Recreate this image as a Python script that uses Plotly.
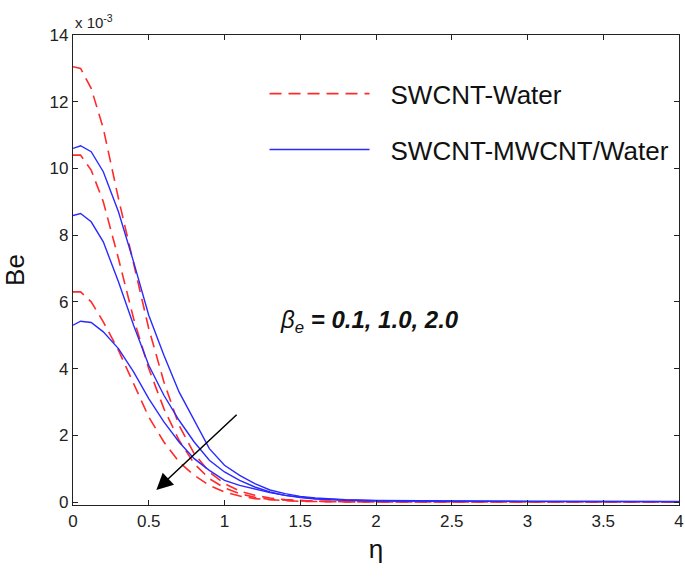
import plotly.graph_objects as go

eta = [0, 0.05, 0.12, 0.2, 0.3, 0.4, 0.5, 0.6, 0.7, 0.8, 0.9, 1.0, 1.1, 1.2,
       1.3, 1.4, 1.5, 1.6, 1.8, 2.0, 2.5, 3.0, 3.5, 4.0]

# Be values in units of 1e-3
swcnt_water_b01 = [13.05, 13.0, 12.4, 11.2, 9.1, 7.1, 5.2, 3.6, 2.3, 1.45, 0.9, 0.55, 0.33, 0.2,
                   0.12, 0.07, 0.04, 0.025, 0.01, 0.005, 0, 0, 0, 0]
swcnt_water_b10 = [10.4, 10.4, 9.95, 9.0, 7.3, 5.5, 4.0, 2.8, 1.85, 1.15, 0.7, 0.42, 0.25, 0.14,
                   0.08, 0.05, 0.03, 0.02, 0.01, 0.005, 0, 0, 0, 0]
swcnt_water_b20 = [6.3, 6.3, 6.0, 5.4, 4.55, 3.55, 2.55, 1.8, 1.2, 0.8, 0.5, 0.3, 0.18, 0.1,
                   0.06, 0.04, 0.02, 0.01, 0.005, 0, 0, 0, 0, 0]

hybrid_b01 = [10.6, 10.68, 10.5, 9.9, 8.7, 7.2, 5.6, 4.4, 3.3, 2.45, 1.6, 1.1, 0.8, 0.55,
              0.36, 0.25, 0.17, 0.12, 0.07, 0.05, 0.03, 0.02, 0.02, 0.02]
hybrid_b10 = [8.59, 8.65, 8.4, 7.8, 6.6, 5.3, 4.1, 3.2, 2.45, 1.8, 1.25, 0.9, 0.65, 0.45,
              0.3, 0.2, 0.13, 0.09, 0.05, 0.03, 0.02, 0.01, 0.01, 0.01]
hybrid_b20 = [5.3, 5.42, 5.38, 5.1, 4.6, 3.9, 3.1, 2.4, 1.8, 1.3, 0.95, 0.65, 0.5, 0.38,
              0.28, 0.2, 0.14, 0.1, 0.06, 0.04, 0.02, 0.01, 0.01, 0.01]

series_names = ["SWCNT-Water", "SWCNT-MWCNT/Water"]
x_ticks = [0, 0.5, 1, 1.5, 2, 2.5, 3, 3.5, 4]
x_ticklabels = ["0", "0.5", "1", "1.5", "2", "2.5", "3", "3.5", "4"]
y_ticks = [0, 2, 4, 6, 8, 10, 12, 14]
y_ticklabels = ["0", "2", "4", "6", "8", "10", "12", "14"]

RED = "#ff2a2a"
BLUE = "#2a2aff"

fig = go.Figure()
for i, ys in enumerate([swcnt_water_b01, swcnt_water_b10, swcnt_water_b20]):
    fig.add_trace(go.Scatter(
        x=eta, y=ys, mode="lines", name=series_names[0], legendgroup="a",
        showlegend=(i == 0),
        line=dict(color=RED, width=1.6, dash="12px,7px")))
for i, ys in enumerate([hybrid_b01, hybrid_b10, hybrid_b20]):
    fig.add_trace(go.Scatter(
        x=eta, y=ys, mode="lines", name=series_names[1], legendgroup="b",
        showlegend=(i == 0),
        line=dict(color=BLUE, width=1.4)))

axis_common = dict(showline=True, linecolor="#222", linewidth=1.2, mirror="ticks",
                   ticks="inside", ticklen=5, tickcolor="#222", showgrid=False,
                   zeroline=False, automargin=False, ticklabeloverflow="allow",
                   tickfont=dict(family="Liberation Sans, Arial", size=17, color="#222"))

fig.update_xaxes(range=[0, 4], tickvals=x_ticks, ticktext=x_ticklabels,
                 title=dict(text="η", font=dict(family="Liberation Sans, Arial", size=26, color="#111"),
                            standoff=10),
                 **axis_common)
fig.update_yaxes(range=[-0.09, 14], tickvals=y_ticks, ticktext=y_ticklabels,
                 title=dict(text="Be", font=dict(family="Liberation Sans, Arial", size=26, color="#111"),
                            standoff=20),
                 **axis_common)

fig.add_annotation(xref="paper", yref="paper", x=0, y=1.0, xanchor="left", yanchor="bottom",
                   text="x 10<sup>-3</sup>", showarrow=False, yshift=2,
                   font=dict(family="Liberation Sans, Arial", size=15, color="#222"))

fig.add_annotation(xref="x", yref="y", x=1.35, y=5.4, xanchor="left", yanchor="middle",
                   text="<i>β</i><sub><i>e</i></sub><b><i> = 0.1, 1.0, 2.0</i></b>",
                   showarrow=False,
                   font=dict(family="Liberation Sans, Arial", size=24, color="#111"))

fig.add_annotation(xref="x", yref="y", axref="x", ayref="y",
                   x=0.55, y=0.36, ax=1.09, ay=2.66, text="", showarrow=True,
                   arrowhead=2, arrowsize=2.2, arrowwidth=1.5, arrowcolor="#000", standoff=0)

fig.update_layout(
    width=685, height=577,
    margin=dict(l=73, r=6, t=35, b=72),
    paper_bgcolor="white", plot_bgcolor="white",
    legend=dict(x=0.321, y=0.925, xanchor="left", yanchor="top",
                bgcolor="rgba(0,0,0,0)", borderwidth=0,
                traceorder="grouped", tracegroupgap=19, itemwidth=113,
                font=dict(family="Liberation Sans, Arial", size=26, color="#111")),
    showlegend=True,
)

post = """
document.body.style.margin = '0';
var paths = document.querySelectorAll('.legendlines path');
paths.forEach(function(p){ p.setAttribute('d', 'M2,0h100'); });
"""
fig.write_html("out.html", post_script=post, config={"displayModeBar": False})
